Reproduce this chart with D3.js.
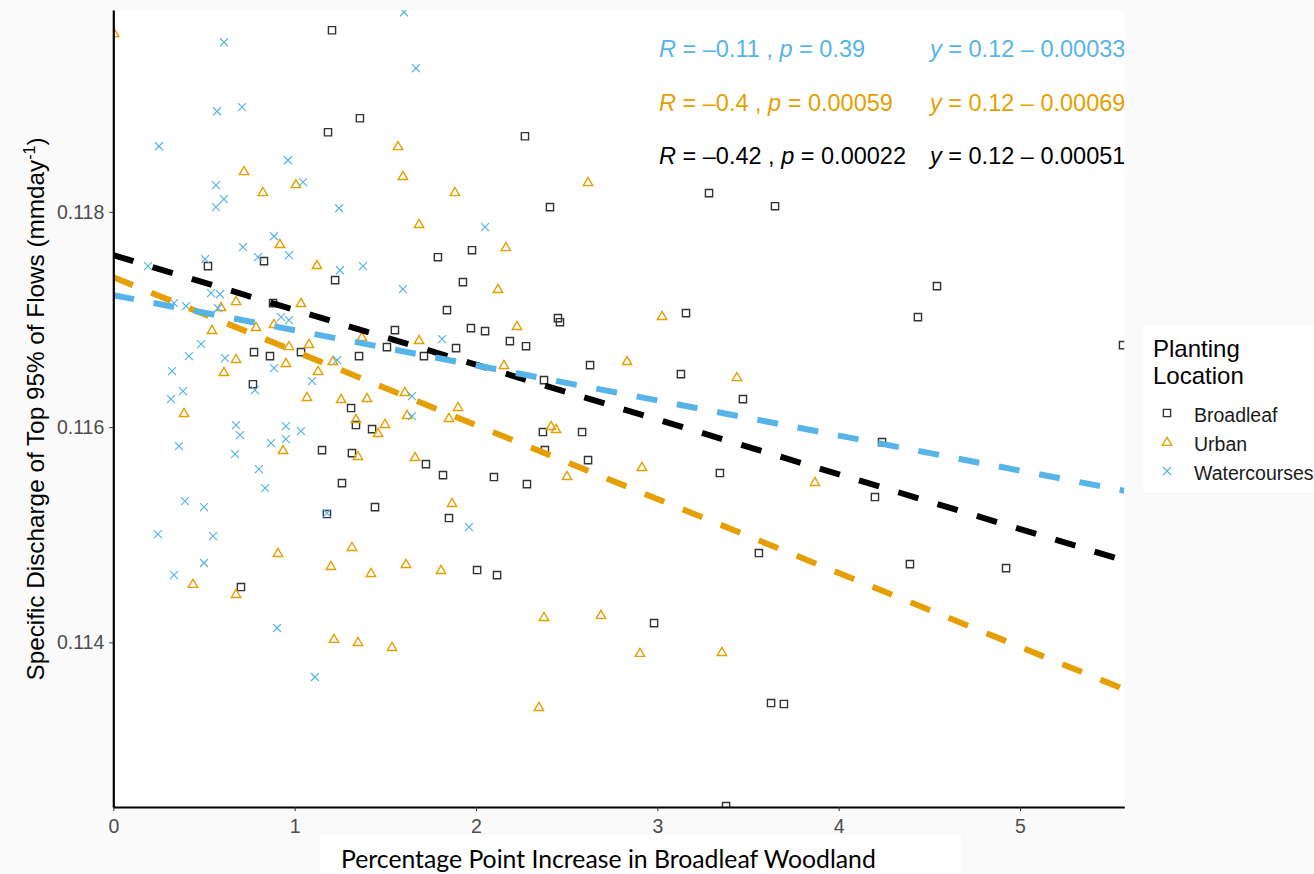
<!DOCTYPE html>
<html>
<head>
<meta charset="utf-8">
<script src="https://cdn.jsdelivr.net/npm/d3@7"></script>
<style>
  body { margin: 0; background: #fafafa; }
  svg { display: block; }
  text { font-family: "Liberation Sans", Arial, sans-serif; }
</style>
</head>
<body>
<svg id="chart" width="1314" height="874"></svg>
<script>
// ---- data ----
const groups = ["Broadleaf", "Urban", "Watercourses"];
const pointColors = ["#333333", "#E69F00", "#56B4E9"];
const lineColors = ["#000000", "#E69F00", "#56B4E9"];

// fitted lines y = a + b*x, one per group
const intercepts = [0.117598, 0.117393, 0.117226];
const slopes = [-0.000509, -0.000687, -0.000326];

// stat labels, top to bottom: Watercourses, Urban, Broadleaf
const corR = ["–0.11", "–0.4", "–0.42"];
const corP = ["0.39", "0.00059", "0.00022"];
const eqA = ["0.12", "0.12", "0.12"];
const eqB = ["0.00033", "0.00069", "0.00051"];
const labelGroup = [2, 1, 0];

const xTicks = [0, 1, 2, 3, 4, 5];
const yTicks = [0.114, 0.116, 0.118];
const xDomain = [0, 5.575];
const yDomain = [0.11247, 0.119876];

const broadleafPts = [
  [1.206, 0.119688], [1.360, 0.11887], [1.184, 0.11874], [0.522, 0.117496], [0.831, 0.117542],
  [1.223, 0.117366], [1.790, 0.117579], [0.881, 0.117152], [2.270, 0.118703], [2.408, 0.118044],
  [3.285, 0.118174], [3.649, 0.118053], [1.978, 0.117644], [1.928, 0.117347], [4.542, 0.11731],
  [4.437, 0.117022], [5.568, 0.116762], [4.239, 0.115861], [4.200, 0.11535], [4.393, 0.114727],
  [4.923, 0.11469], [1.553, 0.116901], [1.509, 0.116743], [1.713, 0.11666], [0.776, 0.116697],
  [0.864, 0.11666], [1.035, 0.116697], [1.355, 0.11666], [0.770, 0.116399], [1.311, 0.116177],
  [1.338, 0.116019], [1.427, 0.115981], [1.151, 0.115786], [1.316, 0.115758], [1.724, 0.115656],
  [1.261, 0.11548], [1.443, 0.115257], [1.178, 0.115192], [1.840, 0.117087], [1.972, 0.11692],
  [2.050, 0.116892], [2.452, 0.117013], [2.463, 0.116975], [2.187, 0.116799], [2.276, 0.116752],
  [1.890, 0.116734], [2.629, 0.116576], [3.158, 0.117059], [3.130, 0.116492], [3.472, 0.11626],
  [2.375, 0.116437], [2.369, 0.115954], [2.585, 0.115954], [2.380, 0.115786], [2.618, 0.115693],
  [1.818, 0.115554], [2.099, 0.115536], [2.281, 0.11547], [3.345, 0.115573], [1.851, 0.115155],
  [2.006, 0.114672], [2.116, 0.114625], [3.560, 0.11483], [2.982, 0.114179], [3.627, 0.113436],
  [3.698, 0.113427], [3.379, 0.112479], [0.704, 0.114514]
];

const urbanPts = [
  [0.005, 0.11966], [0.721, 0.118378], [0.825, 0.118183], [1.007, 0.118257], [0.919, 0.1177],
  [1.123, 0.117505], [1.570, 0.11861], [1.597, 0.118332], [1.686, 0.117886], [0.677, 0.11717],
  [1.035, 0.117152], [1.884, 0.118183], [2.618, 0.118276], [2.165, 0.117672], [2.121, 0.117282],
  [2.226, 0.116938], [3.026, 0.117031], [2.833, 0.116613], [3.439, 0.116464], [2.154, 0.116576],
  [1.686, 0.116808], [1.901, 0.116186], [1.851, 0.116084], [2.414, 0.116009], [2.441, 0.115981],
  [2.915, 0.115628], [2.502, 0.115545], [3.869, 0.115489], [1.868, 0.115294], [1.807, 0.114672],
  [0.594, 0.117115], [0.544, 0.116901], [0.787, 0.116929], [0.886, 0.116957], [1.371, 0.116836],
  [0.969, 0.116752], [1.079, 0.116771], [0.677, 0.116632], [0.610, 0.116511], [0.952, 0.116595],
  [1.211, 0.116613], [1.129, 0.11652], [0.390, 0.11613], [1.068, 0.116279], [1.256, 0.11626],
  [1.399, 0.116269], [1.608, 0.116325], [1.338, 0.116074], [1.620, 0.116111], [1.498, 0.116028],
  [1.460, 0.115944], [0.936, 0.115786], [1.349, 0.115731], [1.664, 0.115721], [0.908, 0.11483],
  [1.316, 0.114885], [1.200, 0.114709], [1.614, 0.114727], [1.421, 0.114644], [0.439, 0.114542],
  [0.677, 0.114449], [1.217, 0.114031], [1.349, 0.114003], [1.537, 0.113956], [2.375, 0.114235],
  [2.689, 0.114254], [2.904, 0.113901], [3.356, 0.11391], [2.347, 0.113399]
];

const watercoursesPts = [
  [1.603, 0.119855], [0.610, 0.119576], [1.669, 0.119335], [0.572, 0.118935], [0.710, 0.118973],
  [0.252, 0.11861], [0.963, 0.11848], [1.046, 0.118276], [0.566, 0.118248], [0.610, 0.118118],
  [0.566, 0.118044], [1.245, 0.118034], [0.886, 0.117774], [0.715, 0.117672], [0.798, 0.117579],
  [0.969, 0.117598], [0.506, 0.117561], [0.191, 0.117496], [1.250, 0.117458], [1.377, 0.117496],
  [1.597, 0.117282], [0.539, 0.117245], [0.588, 0.117235], [0.335, 0.117152], [0.401, 0.117124],
  [0.577, 0.117105], [0.925, 0.117022], [0.969, 0.116994], [0.484, 0.116771], [0.417, 0.11666],
  [0.616, 0.116641], [0.324, 0.11652], [0.886, 0.116548], [1.234, 0.116622], [0.384, 0.116334],
  [0.318, 0.11626], [0.781, 0.116344], [1.096, 0.116427], [1.647, 0.116288], [1.647, 0.116102],
  [0.677, 0.116019], [0.699, 0.115926], [0.952, 0.116009], [0.952, 0.115889], [1.035, 0.115963],
  [0.870, 0.115851], [0.362, 0.115824], [0.671, 0.115749], [0.803, 0.11561], [0.837, 0.115433],
  [0.395, 0.115313], [0.500, 0.115257], [1.178, 0.115201], [0.246, 0.115006], [0.550, 0.114987],
  [0.500, 0.114737], [0.335, 0.114625], [0.903, 0.114133], [1.112, 0.113678], [1.813, 0.116817],
  [1.961, 0.115071], [2.050, 0.117858]
];

const allPts = [broadleafPts, urbanPts, watercoursesPts];

// ---- drawing ----
const svg = d3.select("#chart");
const panel = {left: 113.3, right: 1124.3, top: 10, bottom: 807};

const x = d3.scaleLinear().domain(xDomain).range([panel.left, panel.right]);
const y = d3.scaleLinear().domain(yDomain).range([panel.bottom, panel.top]);

svg.append("rect")
  .attr("x", panel.left).attr("y", panel.top)
  .attr("width", panel.right - panel.left).attr("height", panel.bottom - panel.top)
  .attr("fill", "#ffffff");

svg.append("clipPath").attr("id", "clip")
  .append("rect")
  .attr("x", panel.left).attr("y", panel.top)
  .attr("width", panel.right - panel.left).attr("height", panel.bottom - panel.top);

const plot = svg.append("g").attr("clip-path", "url(#clip)");

// marker shapes
function markerPath(gi) {
  if (gi === 0) return "M-3.6,-3.6H3.6V3.6H-3.6Z";
  if (gi === 1) return "M0,-4.7L4.7,3.4H-4.7Z";
  return "M-4,-4L4,4M-4,4L4,-4";
}

allPts.forEach((pts, gi) => {
  plot.append("g")
    .selectAll("path")
    .data(pts)
    .join("path")
    .attr("d", markerPath(gi))
    .attr("transform", d => `translate(${x(d[0])},${y(d[1])})`)
    .attr("fill", "none")
    .attr("stroke", pointColors[gi])
    .attr("stroke-width", gi === 2 ? 1.2 : 1.4);
});

// fitted dashed lines
const line = d3.line().x(d => x(d[0])).y(d => y(d[1]));
groups.forEach((g, gi) => {
  const ends = xDomain.map(v => [v, intercepts[gi] + slopes[gi] * v]);
  plot.append("path")
    .attr("d", line(ends))
    .attr("fill", "none")
    .attr("stroke", lineColors[gi])
    .attr("stroke-width", 6)
    .attr("stroke-dasharray", "21,20");
});

// stat labels
const labels = plot.append("g").attr("font-size", 23.5);
labelGroup.forEach((gi, i) => {
  const base = 57 + i * 53.5;
  const t1 = labels.append("text").attr("x", 659).attr("y", base).attr("fill", lineColors[gi]);
  t1.append("tspan").attr("font-style", "italic").text("R");
  t1.append("tspan").text(` = ${corR[i]} , `);
  t1.append("tspan").attr("font-style", "italic").text("p");
  t1.append("tspan").text(` = ${corP[i]}`);
  const t2 = labels.append("text").attr("x", 930).attr("y", base).attr("fill", lineColors[gi]);
  t2.append("tspan").attr("font-style", "italic").text("y");
  t2.append("tspan").text(` = ${eqA[i]} – ${eqB[i]}`);
});

// axes
const xAxis = svg.append("g")
  .attr("transform", `translate(0,${panel.bottom})`)
  .call(d3.axisBottom(x).tickValues(xTicks).tickFormat(d3.format("d"))
    .tickSize(4).tickSizeOuter(0).tickPadding(8));
const yAxis = svg.append("g")
  .attr("transform", `translate(${panel.left},0)`)
  .call(d3.axisLeft(y).tickValues(yTicks).tickFormat(d3.format(".3f"))
    .tickSize(4).tickSizeOuter(0).tickPadding(5));

[xAxis, yAxis].forEach(a => {
  a.select(".domain").attr("stroke", "#000").attr("stroke-width", 2.2);
  a.selectAll(".tick line").attr("stroke", "#333");
  a.selectAll(".tick text")
    .attr("fill", "#4D4D4D")
    .attr("font-size", 19.5);
});

// y axis title
const yTitle = svg.append("text")
  .attr("transform", "translate(44,409) rotate(-90)")
  .attr("text-anchor", "middle")
  .attr("font-size", 24.3)
  .attr("fill", "#000");
yTitle.append("tspan").text("Specific Discharge of Top 95% of Flows (mmday");
yTitle.append("tspan").attr("font-size", 16).attr("dy", -9).text("-1");
yTitle.append("tspan").attr("dy", 9).text(")");

// x axis title in its own white box
svg.append("rect")
  .attr("x", 320).attr("y", 835).attr("width", 641).attr("height", 39)
  .attr("fill", "#ffffff");
const xTitle = svg.append("text")
  .attr("x", 341).attr("y", 868)
  .style("font-family", "Lato, 'Open Sans', sans-serif")
  .attr("font-size", 24)
  .attr("fill", "#000")
  .text("Percentage Point Increase in Broadleaf Woodland");
const w = xTitle.node().getComputedTextLength();
xTitle.attr("font-size", 24 * 535 / w);

// legend
const legend = svg.append("g");
legend.append("rect")
  .attr("x", 1143).attr("y", 325).attr("width", 171).attr("height", 167)
  .attr("fill", "#ffffff");
legend.append("text").attr("x", 1153).attr("y", 357).attr("font-size", 24).text("Planting");
legend.append("text").attr("x", 1153).attr("y", 384).attr("font-size", 24).text("Location");
groups.forEach((g, gi) => {
  const cy = 413 + gi * 29;
  legend.append("path")
    .attr("d", markerPath(gi))
    .attr("transform", `translate(1167,${cy})`)
    .attr("fill", "none")
    .attr("stroke", pointColors[gi])
    .attr("stroke-width", gi === 2 ? 1.2 : 1.4);
  legend.append("text")
    .attr("x", 1194).attr("y", cy + 8.5)
    .attr("font-size", 19.5)
    .attr("fill", "#1a1a1a")
    .text(g);
});
</script>
</body>
</html>
